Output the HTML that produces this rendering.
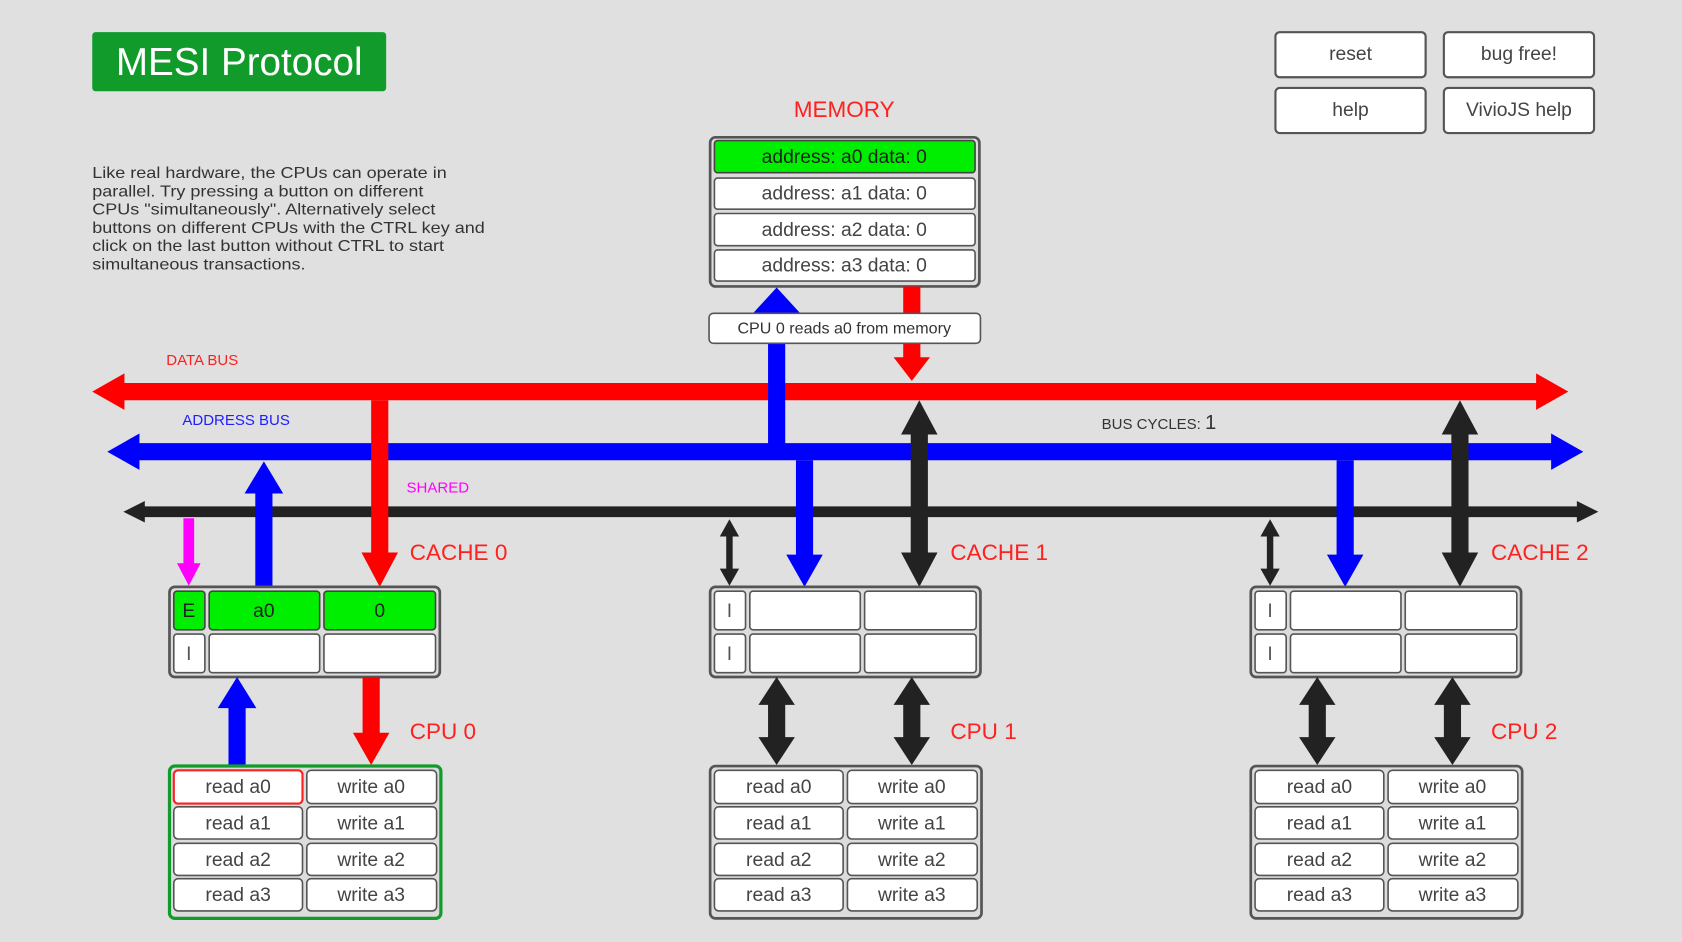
<!DOCTYPE html>
<html><head><meta charset="utf-8"><style>
html,body{margin:0;padding:0;background:#e0e0e0;}
svg{display:block;}
text{font-family:"Liberation Sans",sans-serif;}
.c{fill:#fff;stroke:#555;stroke-width:1.5;}
.g{fill:#00ee00;stroke:#444;stroke-width:1.5;}
.box{fill:#dcdcdc;stroke:#555;stroke-width:2.5;}
.bt{font-size:18px;fill:#444;text-anchor:middle;}
.st{font-size:18px;fill:#555;text-anchor:middle;}
.lab{font-size:21px;fill:#ff2020;}
</style></head><body>
<svg width="1682" height="942" viewBox="0 0 1568 878" preserveAspectRatio="none" xmlns="http://www.w3.org/2000/svg">
<rect width="1568" height="878" fill="#e0e0e0"/>
<rect x="86" y="30" width="274" height="55" rx="3" fill="#119b2b"/>
<text x="223" y="70" font-size="36" fill="#fff" text-anchor="middle">MESI Protocol</text>

<g>
<rect x="1189" y="30" width="140" height="42" rx="4" fill="#fff" stroke="#555" stroke-width="2"/>
<text x="1259" y="56" class="bt">reset</text>
<rect x="1346" y="30" width="140" height="42" rx="4" fill="#fff" stroke="#555" stroke-width="2"/>
<text x="1416" y="56" class="bt">bug free!</text>
<rect x="1189" y="82" width="140" height="42" rx="4" fill="#fff" stroke="#555" stroke-width="2"/>
<text x="1259" y="108" class="bt">help</text>
<rect x="1346" y="82" width="140" height="42" rx="4" fill="#fff" stroke="#555" stroke-width="2"/>
<text x="1416" y="108" class="bt">VivioJS help</text>
</g>

<g font-size="15" fill="#333" transform="translate(86,0) scale(1.12,1) translate(-86,0)">
<text x="86" y="166">Like real hardware, the CPUs can operate in</text>
<text x="86" y="183">parallel. Try pressing a button on different</text>
<text x="86" y="200">CPUs "simultaneously". Alternatively select</text>
<text x="86" y="217">buttons on different CPUs with the CTRL key and</text>
<text x="86" y="234">click on the last button without CTRL to start</text>
<text x="86" y="251">simultaneous transactions.</text>
</g>

<text x="787" y="109" font-size="21" fill="#ff2020" text-anchor="middle">MEMORY</text>
<rect x="662" y="128" width="251" height="139" rx="5" class="box"/>
<rect x="666" y="131" width="243" height="30" rx="3" class="g"/>
<rect x="666" y="166" width="243" height="29" rx="3" class="c"/>
<rect x="666" y="199" width="243" height="30" rx="3" class="c"/>
<rect x="666" y="233" width="243" height="29" rx="3" class="c"/>
<text x="787" y="152" class="bt" style="fill:#222">address: a0 data: 0</text>
<text x="787" y="186" class="bt">address: a1 data: 0</text>
<text x="787" y="220" class="bt">address: a2 data: 0</text>
<text x="787" y="253" class="bt">address: a3 data: 0</text>

<polygon fill="#ff0000" points="86,365 116,348 116,357 1432,357 1432,348 1462,365 1432,382 1432,373 116,373 116,382"/>
<polygon fill="#0000ff" points="100,421 130,404 130,413 1446,413 1446,404 1476,421 1446,438 1446,429 130,429 130,438"/>
<polygon fill="#222" points="115,477 135,467 135,472 1470,472 1470,467 1490,477 1470,487 1470,482 135,482 135,487"/>

<polygon fill="#0000ff" points="716,420 716,292 702,292 724,268 746,292 732,292 732,420"/>
<polygon fill="#ff0000" points="842,267 858,267 858,333 867,333 850,355 833,333 842,333"/>
<rect x="661" y="292" width="253" height="28" rx="4" fill="#fff" stroke="#555" stroke-width="1.5"/>
<text x="787" y="311" font-size="15" fill="#333" text-anchor="middle">CPU 0 reads a0 from memory</text>

<text x="155" y="340" font-size="14" fill="#ff2020">DATA BUS</text>
<text x="170" y="396" font-size="14" fill="#2020ff">ADDRESS BUS</text>
<text x="379" y="459" font-size="14" fill="#ff00ff">SHARED</text>
<text x="1027" y="400" font-size="14" fill="#333">BUS CYCLES: <tspan font-size="19">1</tspan></text>

<polygon fill="#ff00ff" points="171,483 181,483 181,525 187,525 176,546 165,525 171,525"/>
<polygon fill="#0000ff" points="238,547 238,460 228,460 246,430 264,460 254,460 254,547"/>
<polygon fill="#ff0000" points="346,373 362,373 362,515 371,515 354,547 337,515 346,515"/>
<text x="382" y="522" class="lab">CACHE 0</text>
<rect x="158" y="547" width="252" height="84" rx="5" class="box"/>
<rect x="162" y="551" width="29" height="36" rx="3" class="g"/>
<rect x="195" y="551" width="103" height="36" rx="3" class="g"/>
<rect x="302" y="551" width="104" height="36" rx="3" class="g"/>
<rect x="162" y="591" width="29" height="36" rx="3" class="c"/>
<rect x="195" y="591" width="103" height="36" rx="3" class="c"/>
<rect x="302" y="591" width="104" height="36" rx="3" class="c"/>
<text x="176" y="575" class="st" style="fill:#222">E</text>
<text x="246" y="575" class="st" style="fill:#222">a0</text>
<text x="354" y="575" class="st" style="fill:#222">0</text>
<text x="176" y="615" class="st">I</text>
<polygon fill="#0000ff" points="213,713 213,660 203,660 221,631 239,660 229,660 229,713"/>
<polygon fill="#ff0000" points="338,631 354,631 354,683 363,683 346,713 329,683 338,683"/>
<text x="382" y="689" class="lab">CPU 0</text>
<rect x="158" y="714" width="253" height="142" rx="5" fill="#dcdcdc" stroke="#109b2b" stroke-width="3"/>
<rect x="162" y="718" width="120" height="31" rx="4" fill="#fff" stroke="#ff2020" stroke-width="2"/>
<rect x="286" y="718" width="121" height="31" rx="4" class="c"/>
<rect x="162" y="752" width="120" height="30" rx="4" class="c"/>
<rect x="286" y="752" width="121" height="30" rx="4" class="c"/>
<rect x="162" y="786" width="120" height="30" rx="4" class="c"/>
<rect x="286" y="786" width="121" height="30" rx="4" class="c"/>
<rect x="162" y="819" width="120" height="30" rx="4" class="c"/>
<rect x="286" y="819" width="121" height="30" rx="4" class="c"/>
<text x="222" y="739" class="bt">read a0</text><text x="346" y="739" class="bt">write a0</text>
<text x="222" y="773" class="bt">read a1</text><text x="346" y="773" class="bt">write a1</text>
<text x="222" y="807" class="bt">read a2</text><text x="346" y="807" class="bt">write a2</text>
<text x="222" y="840" class="bt">read a3</text><text x="346" y="840" class="bt">write a3</text>

<g>
<polygon fill="#222" points="677,500 671,500 680,484 689,500 683,500 683,530 689,530 680,546 671,530 677,530"/>
<polygon fill="#0000ff" points="742,429 758,429 758,517 767,517 750,547 733,517 742,517"/>
<polygon fill="#222" points="849,405 840,405 857,373 874,405 865,405 865,515 874,515 857,547 840,515 849,515"/>
<text x="886" y="522" class="lab">CACHE 1</text>
<rect x="662" y="547" width="252" height="84" rx="5" class="box"/>
<rect x="666" y="551" width="29" height="36" rx="3" class="c"/>
<rect x="699" y="551" width="103" height="36" rx="3" class="c"/>
<rect x="806" y="551" width="104" height="36" rx="3" class="c"/>
<rect x="666" y="591" width="29" height="36" rx="3" class="c"/>
<rect x="699" y="591" width="103" height="36" rx="3" class="c"/>
<rect x="806" y="591" width="104" height="36" rx="3" class="c"/>
<text x="680" y="575" class="st">I</text><text x="680" y="615" class="st">I</text>
<polygon fill="#222" points="716,657 707,657 724,631 741,657 732,657 732,687 741,687 724,713 707,687 716,687"/>
<polygon fill="#222" points="842,657 833,657 850,631 867,657 858,657 858,687 867,687 850,713 833,687 842,687"/>
<text x="886" y="689" class="lab">CPU 1</text>
<rect x="662" y="714" width="253" height="142" rx="5" class="box"/>
<rect x="666" y="718" width="120" height="31" rx="4" class="c"/>
<rect x="790" y="718" width="121" height="31" rx="4" class="c"/>
<rect x="666" y="752" width="120" height="30" rx="4" class="c"/>
<rect x="790" y="752" width="121" height="30" rx="4" class="c"/>
<rect x="666" y="786" width="120" height="30" rx="4" class="c"/>
<rect x="790" y="786" width="121" height="30" rx="4" class="c"/>
<rect x="666" y="819" width="120" height="30" rx="4" class="c"/>
<rect x="790" y="819" width="121" height="30" rx="4" class="c"/>
<text x="726" y="739" class="bt">read a0</text><text x="850" y="739" class="bt">write a0</text>
<text x="726" y="773" class="bt">read a1</text><text x="850" y="773" class="bt">write a1</text>
<text x="726" y="807" class="bt">read a2</text><text x="850" y="807" class="bt">write a2</text>
<text x="726" y="840" class="bt">read a3</text><text x="850" y="840" class="bt">write a3</text>
</g>

<g transform="translate(504,0)">
<polygon fill="#222" points="677,500 671,500 680,484 689,500 683,500 683,530 689,530 680,546 671,530 677,530"/>
<polygon fill="#0000ff" points="742,429 758,429 758,517 767,517 750,547 733,517 742,517"/>
<polygon fill="#222" points="849,405 840,405 857,373 874,405 865,405 865,515 874,515 857,547 840,515 849,515"/>
<text x="886" y="522" class="lab">CACHE 2</text>
<rect x="662" y="547" width="252" height="84" rx="5" class="box"/>
<rect x="666" y="551" width="29" height="36" rx="3" class="c"/>
<rect x="699" y="551" width="103" height="36" rx="3" class="c"/>
<rect x="806" y="551" width="104" height="36" rx="3" class="c"/>
<rect x="666" y="591" width="29" height="36" rx="3" class="c"/>
<rect x="699" y="591" width="103" height="36" rx="3" class="c"/>
<rect x="806" y="591" width="104" height="36" rx="3" class="c"/>
<text x="680" y="575" class="st">I</text><text x="680" y="615" class="st">I</text>
<polygon fill="#222" points="716,657 707,657 724,631 741,657 732,657 732,687 741,687 724,713 707,687 716,687"/>
<polygon fill="#222" points="842,657 833,657 850,631 867,657 858,657 858,687 867,687 850,713 833,687 842,687"/>
<text x="886" y="689" class="lab">CPU 2</text>
<rect x="662" y="714" width="253" height="142" rx="5" class="box"/>
<rect x="666" y="718" width="120" height="31" rx="4" class="c"/>
<rect x="790" y="718" width="121" height="31" rx="4" class="c"/>
<rect x="666" y="752" width="120" height="30" rx="4" class="c"/>
<rect x="790" y="752" width="121" height="30" rx="4" class="c"/>
<rect x="666" y="786" width="120" height="30" rx="4" class="c"/>
<rect x="790" y="786" width="121" height="30" rx="4" class="c"/>
<rect x="666" y="819" width="120" height="30" rx="4" class="c"/>
<rect x="790" y="819" width="121" height="30" rx="4" class="c"/>
<text x="726" y="739" class="bt">read a0</text><text x="850" y="739" class="bt">write a0</text>
<text x="726" y="773" class="bt">read a1</text><text x="850" y="773" class="bt">write a1</text>
<text x="726" y="807" class="bt">read a2</text><text x="850" y="807" class="bt">write a2</text>
<text x="726" y="840" class="bt">read a3</text><text x="850" y="840" class="bt">write a3</text>
</g>
</svg>
</body></html>
